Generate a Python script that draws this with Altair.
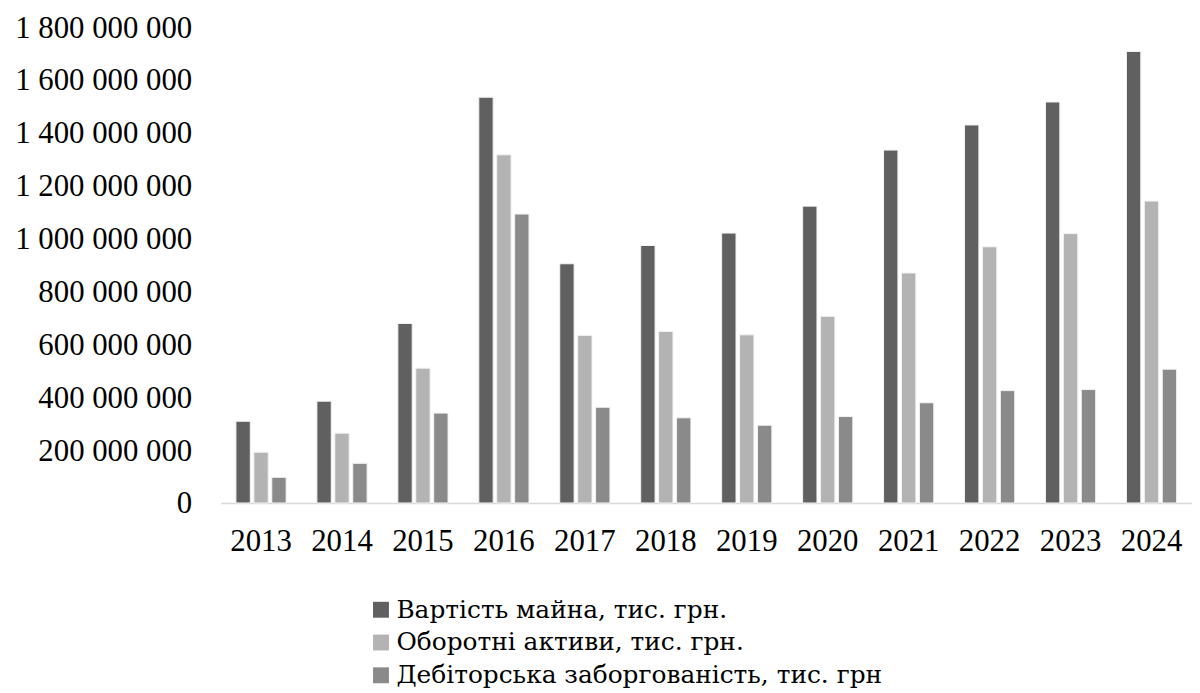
import altair as alt
import pandas as pd

years = ["2013", "2014", "2015", "2016", "2017", "2018", "2019", "2020", "2021", "2022", "2023", "2024"]
series = ["Вартість майна, тис. грн.", "Оборотні активи, тис. грн.", "Дебіторська заборгованість, тис. грн"]
property_value = [309e6, 385e6, 679e6, 1535e6, 905e6, 974e6, 1021e6, 1123e6, 1335e6, 1430e6, 1517e6, 1708e6]
current_assets = [192e6, 264e6, 510e6, 1317e6, 634e6, 649e6, 636e6, 706e6, 870e6, 969e6, 1019e6, 1142e6]
receivables = [97e6, 150e6, 340e6, 1093e6, 362e6, 322e6, 294e6, 327e6, 379e6, 425e6, 429e6, 506e6]
colors = ["#606060", "#b3b3b3", "#8a8a8a"]

rows = []
for s, vals in zip(series, [property_value, current_assets, receivables]):
    for y, v in zip(years, vals):
        rows.append({"year": y, "series": s, "value": v})
df = pd.DataFrame(rows)

font = "Liberation Serif"
legend_font = "DejaVu Serif"

chart = alt.Chart(df).mark_bar(stroke="#f2f2f2", strokeWidth=1).encode(
    x=alt.X("year:N", sort=years, title=None,
            scale=alt.Scale(paddingInner=0.38, paddingOuter=0.19),
            axis=alt.Axis(labelAngle=0, ticks=False, labelPadding=24, labelFontSize=31,
                          labelFont=font, labelColor="#000000", domainColor="#d9d9d9",
                          domainWidth=1.5)),
    xOffset=alt.XOffset("series:N", sort=series,
                        scale=alt.Scale(paddingInner=0.2, paddingOuter=0)),
    y=alt.Y("value:Q", title=None,
            scale=alt.Scale(domain=[0, 1800000000], nice=False),
            axis=alt.Axis(values=[i * 200000000 for i in range(10)], ticks=False, domain=False,
                          grid=False, labelPadding=29, labelFontSize=31, labelFont=font,
                          labelColor="#000000", labelOffset=1,
                          labelExpr="replace(format(datum.value, ',d'), /,/g, ' ')")),
    color=alt.Color("series:N", sort=series,
                    scale=alt.Scale(domain=series, range=colors),
                    legend=alt.Legend(title=None, orient="none", legendX=149, legendY=574,
                                      direction="vertical", symbolType="square",
                                      symbolSize=256, symbolStrokeWidth=0, labelFont=legend_font,
                                      labelFontSize=25, labelColor="#000000", labelOffset=3,
                                      rowPadding=7, padding=0, labelLimit=900)),
).properties(
    width=978,
    height=479,
    autosize=alt.AutoSizeParams(type="none"),
    padding={"left": 214, "top": 17, "right": 0, "bottom": 188},
).configure_view(stroke=None).configure_legend(labelFont=legend_font)

chart.save("out.html", embed_options={"renderer": "svg", "actions": False})
